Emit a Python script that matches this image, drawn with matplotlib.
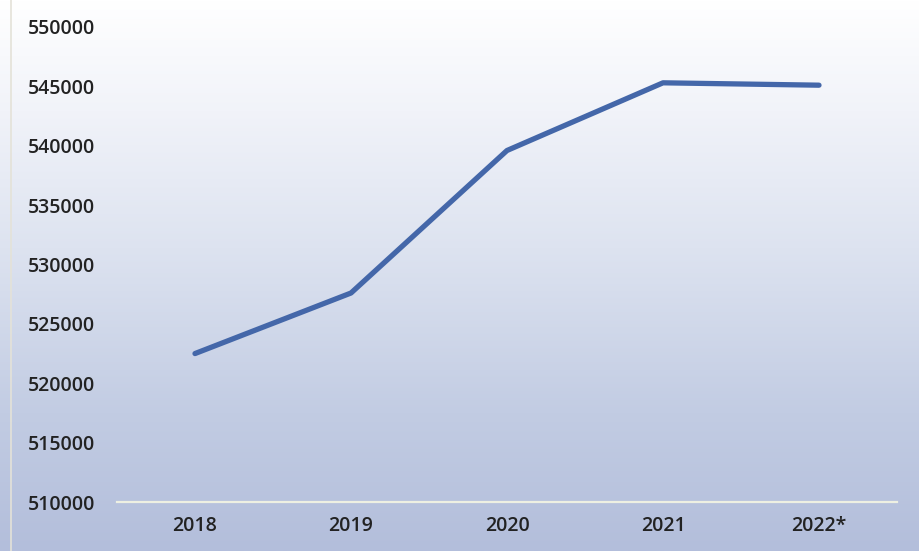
import numpy as np
import matplotlib
matplotlib.use("Agg")
import matplotlib.pyplot as plt
from matplotlib.colors import LinearSegmentedColormap

years = ["2018", "2019", "2020", "2021", "2022*"]
values = [522500, 527600, 539600, 545300, 545100]
yticks = [510000, 515000, 520000, 525000, 530000, 535000, 540000, 545000, 550000]

plt.rcParams['font.family'] = ['Open Sans', 'DejaVu Sans']

W, H = 919, 551
fig = plt.figure(figsize=(W / 100, H / 100), dpi=100)

# background gradient
bg = fig.add_axes([0, 0, 1, 1], zorder=-10)
cmap = LinearSegmentedColormap.from_list(
    "bg", [(0.0, "#ffffff"), (0.2, "#f1f3f9"), (0.45, "#dde3f0"),
           (0.75, "#c2cce3"), (1.0, "#b3bedb")])
grad = np.linspace(0, 1, 256).reshape(-1, 1)
bg.imshow(grad, aspect="auto", cmap=cmap, extent=[0, 1, 1, 0])
bg.set_xlim(0, 1)
bg.set_ylim(1, 0)
bg.axvline(0.012, color="#e4e2d8", lw=1.2)
bg.axis("off")

ax = fig.add_axes([117 / W, 1 - 502 / H, 780 / W, 475 / H])
ax.patch.set_alpha(0)
x = np.arange(len(years))
ax.plot(x, values, color="#4467a9", lw=3.8, solid_capstyle="round",
        solid_joinstyle="round")
ax.set_xlim(-0.5, len(years) - 0.5)
ax.set_ylim(510000, 550000)
ax.set_yticks(yticks)
ax.set_yticklabels([str(v) for v in yticks])
ax.set_xticks(x)
ax.set_xticklabels(years)
for s in ["top", "right", "left"]:
    ax.spines[s].set_visible(False)
ax.spines["bottom"].set_color("#eef0e2")
ax.spines["bottom"].set_linewidth(1.6)
ax.tick_params(axis="both", length=0, labelsize=14, colors="#222222")
ax.tick_params(axis="y", pad=16)
ax.tick_params(axis="x", pad=10)
for lab in ax.get_xticklabels() + ax.get_yticklabels():
    lab.set_fontweight("semibold")

fig.savefig("out.png", dpi=100)
